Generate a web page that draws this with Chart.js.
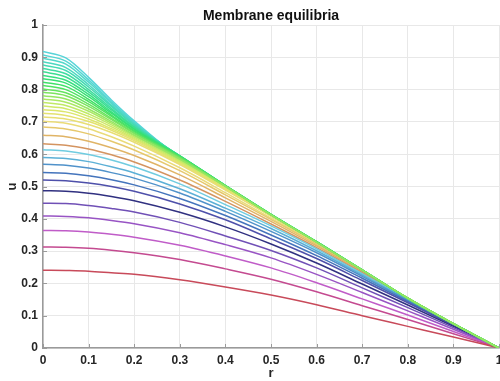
<!DOCTYPE html>
<html>
<head>
<meta charset="utf-8">
<script src="https://cdn.jsdelivr.net/npm/chart.js@4.4.1/dist/chart.umd.min.js"></script>
<style>
  body { margin: 0; background: #fff; }
  #wrap { width: 500px; height: 381px; }
</style>
</head>
<body>
<div id="wrap"><canvas id="myChart"></canvas></div>
<script>
// radius positions where each curve was read
const rValues = [0, 0.05, 0.1, 0.15, 0.2, 0.3, 0.4, 0.5, 0.6, 0.7, 0.8, 0.9, 1];
const tickLabels = ['0', '0.1', '0.2', '0.3', '0.4', '0.5', '0.6', '0.7', '0.8', '0.9', '1'];

// curves, lowest first
const c01 = [0.241, 0.240, 0.238, 0.233, 0.228, 0.211, 0.189, 0.164, 0.134, 0.100, 0.067, 0.034, 0];
const c02 = [0.313, 0.312, 0.309, 0.303, 0.295, 0.274, 0.245, 0.213, 0.174, 0.131, 0.088, 0.044, 0];
const c03 = [0.364, 0.363, 0.359, 0.352, 0.343, 0.318, 0.285, 0.248, 0.202, 0.152, 0.102, 0.051, 0];
const c04 = [0.409, 0.407, 0.403, 0.395, 0.385, 0.357, 0.320, 0.279, 0.228, 0.172, 0.115, 0.058, 0];
const c05 = [0.448, 0.447, 0.441, 0.432, 0.421, 0.389, 0.347, 0.302, 0.248, 0.186, 0.125, 0.063, 0];
const c06 = [0.487, 0.485, 0.479, 0.469, 0.456, 0.420, 0.375, 0.322, 0.263, 0.198, 0.133, 0.067, 0];
const c07 = [0.520, 0.518, 0.511, 0.500, 0.485, 0.446, 0.397, 0.338, 0.277, 0.209, 0.140, 0.070, 0];
const c08 = [0.543, 0.541, 0.533, 0.521, 0.505, 0.463, 0.410, 0.350, 0.286, 0.216, 0.144, 0.071, 0];
const c09 = [0.569, 0.566, 0.557, 0.543, 0.526, 0.480, 0.423, 0.361, 0.295, 0.222, 0.147, 0.072, 0];
const c10 = [0.590, 0.587, 0.577, 0.561, 0.542, 0.493, 0.433, 0.370, 0.301, 0.226, 0.149, 0.073, 0];
const c11 = [0.614, 0.610, 0.599, 0.582, 0.561, 0.508, 0.444, 0.378, 0.307, 0.230, 0.151, 0.073, 0];
const c12 = [0.632, 0.628, 0.616, 0.598, 0.576, 0.520, 0.454, 0.384, 0.311, 0.233, 0.152, 0.074, 0];
const c13 = [0.659, 0.654, 0.640, 0.620, 0.596, 0.536, 0.465, 0.392, 0.316, 0.236, 0.153, 0.074, 0];
const c14 = [0.684, 0.678, 0.663, 0.640, 0.613, 0.549, 0.474, 0.398, 0.320, 0.237, 0.153, 0.074, 0];
const c15 = [0.702, 0.696, 0.679, 0.654, 0.625, 0.558, 0.481, 0.402, 0.322, 0.238, 0.153, 0.074, 0];
const c16 = [0.715, 0.709, 0.692, 0.667, 0.637, 0.568, 0.489, 0.408, 0.325, 0.240, 0.154, 0.075, 0];
const c17 = [0.727, 0.720, 0.701, 0.674, 0.642, 0.570, 0.492, 0.409, 0.325, 0.240, 0.154, 0.075, 0];
const c18 = [0.738, 0.731, 0.709, 0.679, 0.646, 0.573, 0.494, 0.410, 0.326, 0.240, 0.154, 0.075, 0];
const c19 = [0.749, 0.741, 0.717, 0.685, 0.649, 0.576, 0.496, 0.410, 0.326, 0.240, 0.154, 0.075, 0];
const c20 = [0.760, 0.751, 0.725, 0.691, 0.653, 0.579, 0.497, 0.411, 0.326, 0.241, 0.154, 0.075, 0];
const c21 = [0.771, 0.761, 0.733, 0.696, 0.657, 0.582, 0.499, 0.411, 0.327, 0.241, 0.154, 0.075, 0];
const c22 = [0.781, 0.771, 0.740, 0.701, 0.660, 0.585, 0.500, 0.412, 0.327, 0.241, 0.154, 0.075, 0];
const c23 = [0.792, 0.781, 0.748, 0.707, 0.664, 0.588, 0.501, 0.412, 0.328, 0.241, 0.154, 0.075, 0];
const c24 = [0.802, 0.790, 0.755, 0.711, 0.666, 0.590, 0.502, 0.413, 0.328, 0.242, 0.154, 0.075, 0];
const c25 = [0.813, 0.800, 0.763, 0.717, 0.670, 0.592, 0.502, 0.413, 0.329, 0.242, 0.154, 0.075, 0];
const c26 = [0.823, 0.810, 0.770, 0.721, 0.673, 0.593, 0.503, 0.414, 0.329, 0.242, 0.154, 0.075, 0];
const c27 = [0.834, 0.820, 0.778, 0.727, 0.677, 0.594, 0.503, 0.414, 0.329, 0.242, 0.154, 0.075, 0];
const c28 = [0.844, 0.829, 0.785, 0.731, 0.679, 0.595, 0.503, 0.414, 0.329, 0.242, 0.154, 0.075, 0];
const c29 = [0.855, 0.839, 0.793, 0.737, 0.683, 0.595, 0.503, 0.414, 0.329, 0.242, 0.154, 0.075, 0];
const c30 = [0.865, 0.849, 0.800, 0.742, 0.686, 0.595, 0.503, 0.413, 0.328, 0.241, 0.153, 0.075, 0];
const c31 = [0.876, 0.859, 0.808, 0.748, 0.690, 0.594, 0.502, 0.413, 0.328, 0.241, 0.153, 0.075, 0];
const c32 = [0.886, 0.868, 0.815, 0.752, 0.693, 0.593, 0.501, 0.412, 0.327, 0.240, 0.152, 0.074, 0];
const c33 = [0.897, 0.879, 0.823, 0.758, 0.696, 0.592, 0.500, 0.411, 0.326, 0.239, 0.152, 0.074, 0];
const c34 = [0.907, 0.888, 0.830, 0.762, 0.699, 0.590, 0.499, 0.410, 0.325, 0.238, 0.151, 0.074, 0];
const c35 = [0.918, 0.898, 0.838, 0.768, 0.703, 0.588, 0.497, 0.409, 0.324, 0.237, 0.150, 0.073, 0];

const curves = [c01, c02, c03, c04, c05, c06, c07, c08, c09, c10, c11, c12, c13, c14, c15,
  c16, c17, c18, c19, c20, c21, c22, c23, c24, c25, c26, c27, c28, c29, c30, c31, c32, c33, c34, c35];

const lineColors = [
  '#c84a5a', '#c44a90', '#c05cc8', '#9854c4', '#7050b6', '#303080', '#4e50aa', '#4474bc',
  '#5092ca', '#5cb0d6', '#70cce0', '#d49460', '#e0b466', '#e6c86c', '#eadb78',
  '#e8de74', '#e4e270', '#dce66c', '#d0e868', '#c0ea66', '#ace864', '#94e662', '#7ce460',
  '#64e460', '#50e262', '#40e068', '#38e074', '#38e082', '#3cde92', '#40dca2', '#44dab2',
  '#4cd8c0', '#52d8ca', '#56d6d2', '#58d4d8'
];

// green middle of the band sits above the others where they overlap
const lineOrder = curves.map((c, i) => (i >= 21 && i <= 30) ? 0 : 1);

const FONT = 'Liberation Sans, Arial, Helvetica, sans-serif';

// small inward ticks like the original figure, and the title over the plot area
const extras = {
  id: 'extras',
  afterDraw(chart) {
    const ctx = chart.ctx;
    const a = chart.chartArea;
    const xs = chart.scales.x, ys = chart.scales.y;
    ctx.save();
    ctx.strokeStyle = '#9a9a9a';
    ctx.lineWidth = 1;
    xs.ticks.forEach(t => {
      const px = Math.round(xs.getPixelForValue(t.value)) + 0.5;
      ctx.beginPath(); ctx.moveTo(px, a.bottom); ctx.lineTo(px, a.bottom - 4); ctx.stroke();
    });
    ys.ticks.forEach(t => {
      const py = Math.round(ys.getPixelForValue(t.value)) + 0.5;
      ctx.beginPath(); ctx.moveTo(a.left, py); ctx.lineTo(a.left + 4, py); ctx.stroke();
    });
    ctx.fillStyle = '#111';
    ctx.font = 'bold 14px ' + FONT;
    ctx.textAlign = 'center';
    ctx.textBaseline = 'middle';
    ctx.fillText('Membrane equilibria', (a.left + a.right) / 2, 16);
    ctx.restore();
  }
};

const datasets = curves.map((vals, i) => ({
  data: vals.map((v, j) => ({ x: rValues[j], y: v })),
  borderColor: lineColors[i],
  borderWidth: 1.5,
  pointRadius: 0,
  fill: false,
  order: lineOrder[i],
  cubicInterpolationMode: 'monotone'
}));

const tickCb = (v) => {
  const idx = Math.round(v * 10);
  return tickLabels[idx];
};

new Chart(document.getElementById('myChart'), {
  type: 'line',
  data: { datasets: datasets },
  options: {
    responsive: true,
    maintainAspectRatio: false,
    animation: false,
    layout: { padding: { top: 25, right: 0, left: 0, bottom: 0 } },
    plugins: {
      legend: { display: false },
      tooltip: { enabled: false },
      title: { display: false }
    },
    scales: {
      x: {
        type: 'linear',
        min: 0,
        max: 1,
        ticks: { stepSize: 0.1, callback: tickCb, color: '#262626', padding: 5, maxRotation: 0,
          font: { family: FONT, size: 12, weight: 'bold' } },
        grid: { color: '#e8e8e8', drawTicks: false },
        border: { color: '#9a9a9a', width: 1.5 },
        title: { display: true, text: 'r', color: '#262626', padding: 0,
          font: { family: FONT, size: 13, weight: 'bold' } },
        afterFit(s) { s.height = 33; s.paddingRight = 1; s.paddingLeft = 0; }
      },
      y: {
        min: 0,
        max: 1,
        ticks: { stepSize: 0.1, callback: tickCb, color: '#262626', padding: 5,
          font: { family: FONT, size: 12, weight: 'bold' } },
        grid: { color: '#e8e8e8', drawTicks: false },
        border: { color: '#9a9a9a', width: 1.5 },
        title: { display: true, text: 'u', color: '#262626', padding: { top: 5, bottom: 0 },
          font: { family: FONT, size: 13, weight: 'bold' } },
        afterFit(s) { s.width = 43; s.paddingTop = 0; s.paddingBottom = 0; }
      }
    }
  },
  plugins: [extras]
});
</script>
</body>
</html>
